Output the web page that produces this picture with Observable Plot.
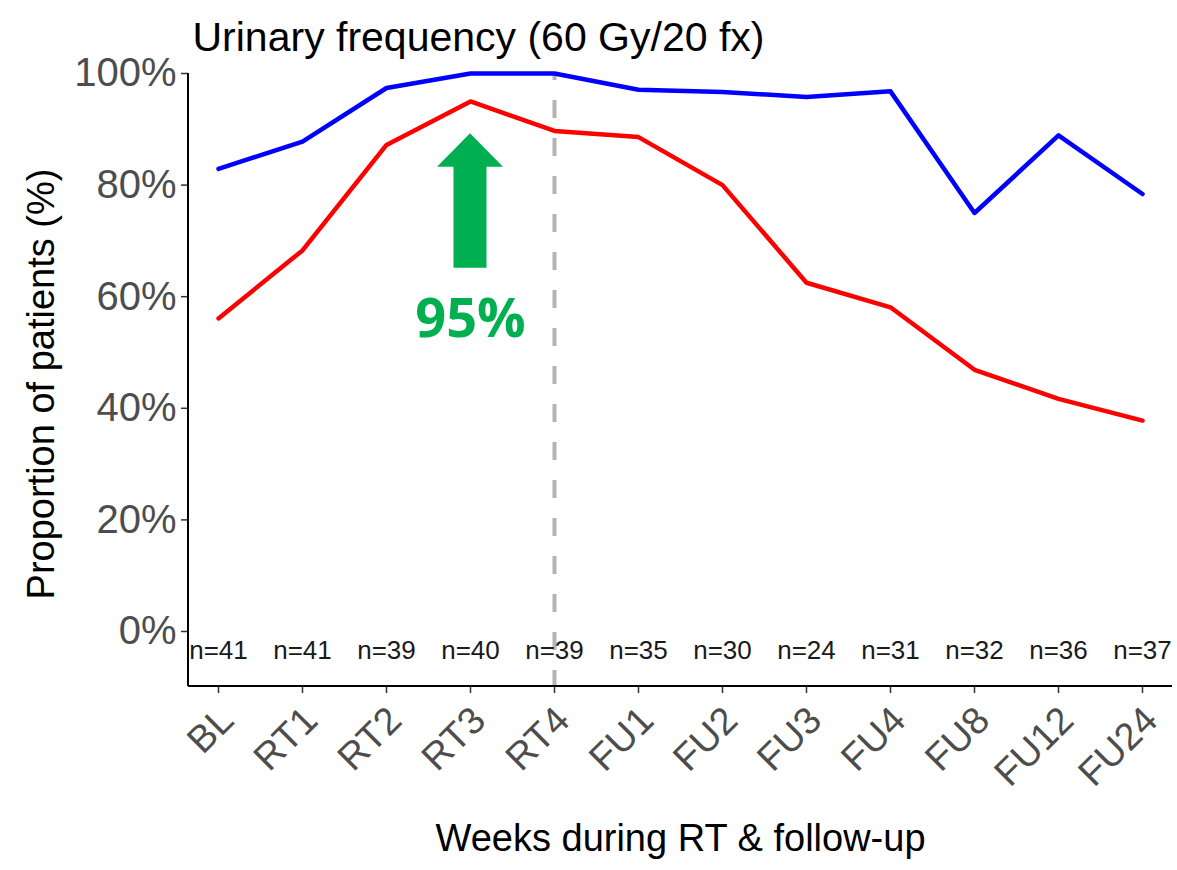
<!DOCTYPE html>
<html><head><meta charset="utf-8">
<script src="https://cdn.jsdelivr.net/npm/d3@7"></script>
<script src="https://cdn.jsdelivr.net/npm/@observablehq/plot@0.6"></script>
<style>body{margin:0;background:#fff} #chart svg{display:block}</style>
</head><body><div id="chart"></div>
<script>
const weeks = ["BL","RT1","RT2","RT3","RT4","FU1","FU2","FU3","FU4","FU8","FU12","FU24"];
const nLabels = ["n=41","n=41","n=39","n=40","n=39","n=35","n=30","n=24","n=31","n=32","n=36","n=37"];
const blueValues = [82.9,87.8,97.4,100,100,97.1,96.7,95.8,96.8,75,88.9,78.4];
const redValues = [56.1,68.3,87.2,95,89.7,88.6,80,62.5,58.1,46.9,41.7,37.8];
const yTicks = [0,20,40,60,80,100];
const dashedWeek = ["RT4"];
const arrowWeek = "RT3";
const arrowValues = [65.1, 83.2, 89.2]; // shaft base, head base, tip
const arrowLabel = ["95%"];
const arrowLabelValue = [52.7];
const titleText = "Urinary frequency (60 Gy/20 fx)";
const xTitle = "Weeks during RT & follow-up";
const yTitle = "Proportion of patients (%)";

const W = 1177, H = 870;
const mL = 188, mR = 5, mT = 73, mB = 184;
const font = "'Liberation Sans', Arial, Helvetica, sans-serif";

const chart = Plot.plot({
  width: W, height: H,
  marginLeft: mL, marginRight: mR, marginTop: mT, marginBottom: mB,
  style: {fontFamily: font, background: "#fff", overflow: "visible"},
  x: {type: "point", domain: weeks, padding: 0.32},
  y: {domain: [-9.86, 100]},
  marks: [
    Plot.ruleX(dashedWeek, {x: d => d, stroke: "#b3b3b3", strokeWidth: 4, strokeDasharray: "18,20", strokeDashoffset: 11}),
    Plot.lineY(blueValues, {x: weeks, stroke: "#0000ff", strokeWidth: 4.5, strokeLinejoin: "round"}),
    Plot.lineY(redValues, {x: weeks, stroke: "#ff0000", strokeWidth: 4.5, strokeLinejoin: "round"}),
    (index, scales) => {
      const cx = scales.x(arrowWeek);
      const [yb, yh, yt] = arrowValues.map(v => scales.y(v));
      const sw = 16.5, hw = 33;
      const pts = [[cx - sw, yb], [cx - sw, yh], [cx - hw, yh], [cx, yt], [cx + hw, yh], [cx + sw, yh], [cx + sw, yb]];
      return d3.create("svg:polygon").attr("points", pts.map(p => p.join(",")).join(" ")).attr("fill", "#00b050").node();
    },
    Plot.text(arrowLabel, {x: [arrowWeek], y: arrowLabelValue, text: d => d, fontFamily: "'Open Sans', sans-serif", fontWeight: "bold", fontSize: 54, fill: "#00b050", lineAnchor: "bottom"}),
    Plot.text(nLabels, {x: weeks, text: d => d, frameAnchor: "bottom", textAnchor: "middle", dy: -28, fontSize: 26, fill: "#1a1a1a"}),
    Plot.axisY({ticks: yTicks, tickSize: 7, tickPadding: 5, tickFormat: d => d + "%", fontSize: 40, fill: "#4d4d4d", stroke: "#333", strokeWidth: 1.5, label: null}),
    Plot.axisX({ticks: weeks, tickSize: 7, tickFormat: () => "", stroke: "#333", strokeWidth: 1.5, label: null}),
    Plot.text(weeks, {x: d => d, text: d => d, frameAnchor: "bottom", rotate: -45, textAnchor: "end", lineAnchor: "top", dx: -2, dy: 17, fontSize: 38, fill: "#4d4d4d"}),
    (index, scales, values, dim) => {
      const g = d3.create("svg:g").attr("stroke", "#000").attr("stroke-width", 2);
      g.append("line").attr("x1", dim.marginLeft).attr("x2", dim.marginLeft).attr("y1", dim.marginTop).attr("y2", dim.height - dim.marginBottom);
      g.append("line").attr("x1", dim.marginLeft).attr("x2", dim.width - dim.marginRight).attr("y1", dim.height - dim.marginBottom).attr("y2", dim.height - dim.marginBottom);
      return g.node();
    },
    Plot.text([titleText], {text: d => d, frameAnchor: "top-left", textAnchor: "start", lineAnchor: "bottom", dx: 4, dy: -23, fontSize: 41, fill: "#000"}),
    Plot.text([xTitle], {text: d => d, frameAnchor: "bottom", textAnchor: "middle", lineAnchor: "bottom", dy: 164, fontSize: 38, fill: "#000"}),
    Plot.text([yTitle], {text: d => d, frameAnchor: "left", textAnchor: "middle", rotate: -90, lineAnchor: "bottom", dx: -135, dy: 4, fontSize: 38, fill: "#000"})
  ]
});
document.getElementById("chart").appendChild(chart);
</script>
</body></html>
